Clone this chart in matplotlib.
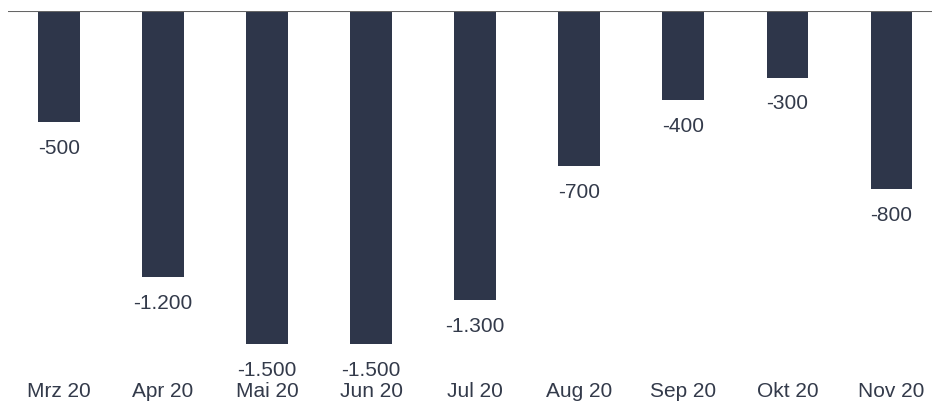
import numpy as np
import matplotlib.pyplot as plt

plt.rcParams['font.family'] = ['Liberation Sans', 'DejaVu Sans']

months = ['Mrz 20', 'Apr 20', 'Mai 20', 'Jun 20', 'Jul 20', 'Aug 20', 'Sep 20', 'Okt 20', 'Nov 20']
values = [-500, -1200, -1500, -1500, -1300, -700, -400, -300, -800]

bar_color = '#2e364a'
text_color = '#333a4a'


def fmt_de(v):
    return f'{v:,.0f}'.replace(',', '.')


fig = plt.figure(figsize=(9.32, 4.01), dpi=100)
ax = fig.add_axes([8 / 932, 27 / 401, 1 - 8 / 932, 363 / 401])

x = np.arange(len(months))
ax.bar(x, values, width=0.4, color=bar_color, zorder=2)

for xi, v in zip(x, values):
    ax.annotate(fmt_de(v), (xi, v), xytext=(0, -19), textcoords='offset points',
                ha='center', va='center', fontsize=15, color=text_color)

ax.set_xlim(-0.49, 8.39)
ax.set_ylim(-1635, 0)
ax.axhline(0, color='#666666', linewidth=1.5, zorder=3)

ax.set_xticks(x)
ax.set_xticklabels(months, fontsize=15, color=text_color)
ax.tick_params(axis='x', length=0, pad=5.8)
ax.set_yticks([])
for s in ax.spines.values():
    s.set_visible(False)

fig.savefig('out.png', dpi=100)
